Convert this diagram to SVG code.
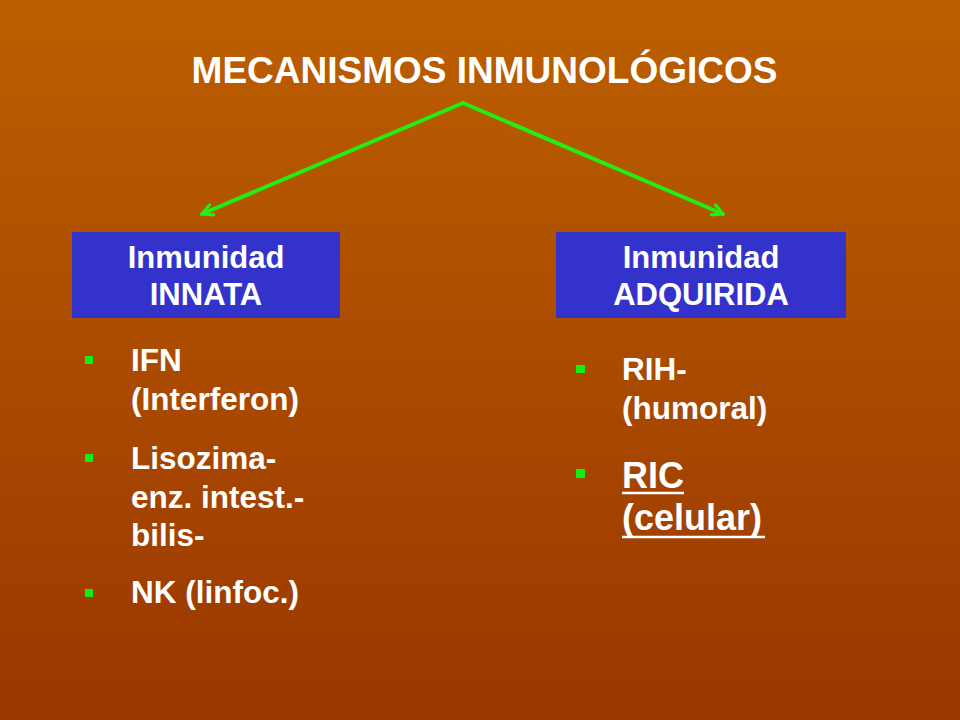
<svg xmlns="http://www.w3.org/2000/svg" width="960" height="720" viewBox="0 0 960 720">
  <defs>
    <linearGradient id="bg" x1="0" y1="0" x2="0" y2="1">
      <stop offset="0" stop-color="#BC5F00"/>
      <stop offset="1" stop-color="#9A3700"/>
    </linearGradient>
    <marker id="open" viewBox="0 0 14 14" refX="12" refY="7" markerWidth="14" markerHeight="14" markerUnits="userSpaceOnUse" orient="auto">
      <path d="M1.5,1.5 L12,7 L1.5,12.5" fill="none" stroke="#22EE11" stroke-width="3.2" stroke-linecap="round" stroke-linejoin="round"/>
    </marker>
    <style>
      text { font-family: "Liberation Sans", Arial, sans-serif; font-weight: bold; fill: #FFFFFF; }
      .title { font-size: 37px; }
      .box { fill: #3333CC; }
      .boxt { font-size: 31px; }
      .body { font-size: 31.5px; }
      .big { font-size: 36px; }
      .bullet { fill: #11EE11; }
      .conn { stroke: #22EE11; stroke-width: 4; fill: none; stroke-linecap: round; }
      .ul { stroke: #FFFFFF; stroke-width: 2.5; }
    </style>
  </defs>
  <rect x="0" y="0" width="960" height="720" fill="url(#bg)"/>

  <g id="title">
    <text class="title" x="484.5" y="83" text-anchor="middle">MECANISMOS INMUNOLÓGICOS</text>
  </g>

  <g id="connectors">
    <line class="conn" x1="463" y1="103" x2="202" y2="214" marker-end="url(#open)"/>
    <line class="conn" x1="463" y1="103" x2="723" y2="214" marker-end="url(#open)"/>
  </g>

  <g id="innata">
    <rect class="box" x="72" y="232" width="268" height="86"/>
    <text class="boxt" x="206" y="268" text-anchor="middle">Inmunidad</text>
    <text class="boxt" x="206" y="305" text-anchor="middle">INNATA</text>
  </g>

  <g id="adquirida">
    <rect class="box" x="556" y="232" width="290" height="86"/>
    <text class="boxt" x="701" y="268" text-anchor="middle">Inmunidad</text>
    <text class="boxt" x="701" y="305" text-anchor="middle">ADQUIRIDA</text>
  </g>

  <g id="innata-list">
    <rect class="bullet" x="85" y="356" width="8" height="8"/>
    <text class="body" x="131" y="371">IFN</text>
    <text class="body" x="131" y="410">(Interferon)</text>
    <rect class="bullet" x="85" y="454" width="8" height="8"/>
    <text class="body" x="131" y="469">Lisozima-</text>
    <text class="body" x="131" y="507.5">enz. intest.-</text>
    <text class="body" x="131" y="546">bilis-</text>
    <rect class="bullet" x="85" y="589" width="8" height="8"/>
    <text class="body" x="131" y="603">NK (linfoc.)</text>
  </g>

  <g id="adquirida-list">
    <rect class="bullet" x="576" y="365" width="9" height="8"/>
    <text class="body" x="622" y="380">RIH-</text>
    <text class="body" x="622" y="419">(humoral)</text>
    <rect class="bullet" x="576" y="469" width="9" height="9"/>
    <text class="big" x="622" y="488">RIC</text>
    <line class="ul" x1="622" y1="493" x2="684" y2="493"/>
    <text class="big" x="622" y="530">(celular)</text>
    <line class="ul" x1="622" y1="537" x2="765" y2="537"/>
  </g>
</svg>
